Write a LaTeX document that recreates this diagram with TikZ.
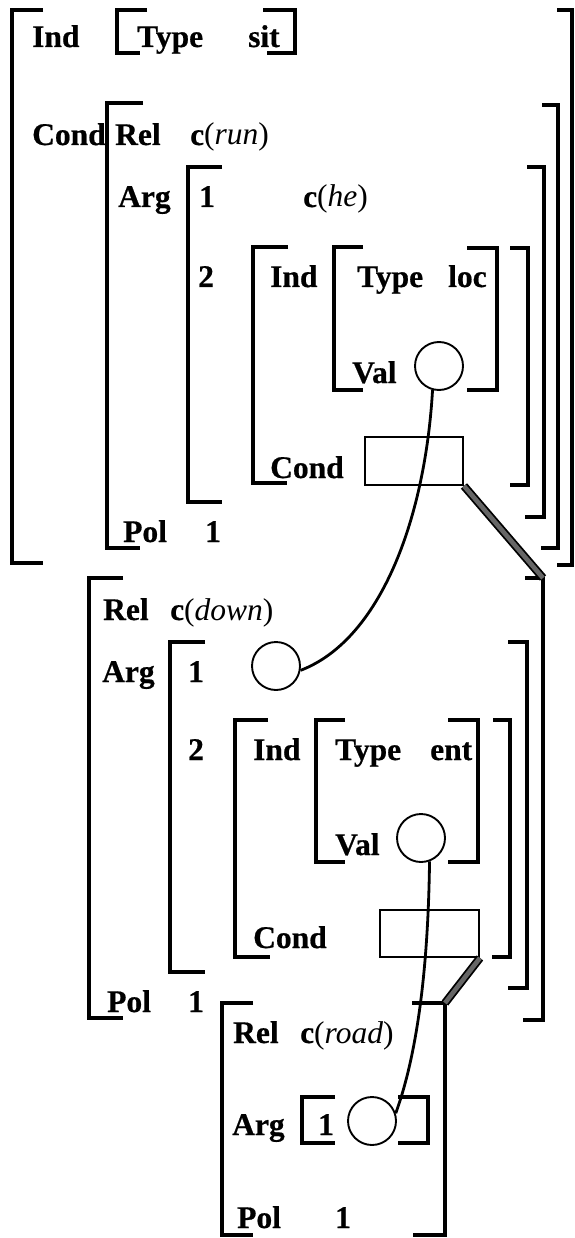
\documentclass[tikz,border=0pt]{standalone}
\usepackage{fontspec}
\setmainfont[BoldFeatures={FakeBold=0.6}]{Liberation Serif}
\begin{document}
\begin{tikzpicture}[x=1pt,y=-1pt,
  brk/.style={line width=3.2pt,line join=miter,line cap=butt},
  lbl/.style={anchor=base west,inner sep=0pt,font=\fontsize{31.5}{31.5}\selectfont\bfseries},
  hole/.style={circle,draw,line width=1.9pt,minimum size=48pt,inner sep=0pt},
  slot/.style={rectangle,draw,line width=1.9pt,inner sep=0pt},
  link/.style={line width=2.8pt},
  share/.style={line width=1.8pt,double=black!60,double distance=4.6pt,line cap=butt}]
\useasboundingbox (0,0) rectangle (574,1238);
% ---------- top AVM brackets ----------
\draw[brk] (43,10) -| (12,563) -- (43,563);
\draw[brk] (557,10) -| (572,565) -- (557,565);
\draw[brk] (147,10) -| (117,53) -- (140,53);
\draw[brk] (263,10) -| (295,53) -- (267,53);
\draw[brk] (143,103) -| (107,548) -- (140,548);
\draw[brk] (542,105) -| (558,548) -- (541,548);
\draw[brk] (222,167) -| (188,502) -- (222,502);
\draw[brk] (527,167) -| (544,517) -- (525,517);
\draw[brk] (288,247) -| (253,483) -- (287,483);
\draw[brk] (510,248) -| (528,485) -- (510,485);
\draw[brk] (363,247) -| (334,390) -- (363,390);
\draw[brk] (467,248) -| (497,390) -- (467,390);
% ---------- lower AVM brackets ----------
\draw[brk] (123,578) -| (89,1018) -- (123,1018);
\draw[brk] (525,578) -| (543,1020) -- (523,1020);
\draw[brk] (205,642) -| (170,972) -- (205,972);
\draw[brk] (508,642) -| (527,988) -- (508,988);
\draw[brk] (268,720) -| (235,957) -- (270,957);
\draw[brk] (493,720) -| (510,957) -- (492,957);
\draw[brk] (345,720) -| (316,862) -- (345,862);
\draw[brk] (448,720) -| (478,862) -- (448,862);
% ---------- road AVM brackets ----------
\draw[brk] (253,1003) -| (222,1235) -- (253,1235);
\draw[brk] (412,1003) -| (445,1235) -- (413,1235);
\draw[brk] (335,1097) -| (302,1143) -- (335,1143);
\draw[brk] (398,1097) -| (428,1143) -- (398,1143);
% ---------- texts: top ----------
\node[lbl] (ind1) at (32,47) {Ind};
\node[lbl] (type1) at (137,47) {Type};
\node[lbl] (sit) at (248,47) {sit};
\node[lbl] (cond1) at (32,145) {Cond};
\node[lbl] (rel1) at (115,145) {Rel};
\node[lbl] (run) at (190,145) {c\textmd{(\textit{run})}};
\node[lbl] (arg1) at (118,207) {Arg};
\node[lbl] (one1) at (199,207) {1};
\node[lbl] (he) at (303,207) {c\textmd{(\textit{he})}};
\node[lbl] (two1) at (198,287) {2};
\node[lbl] (ind2) at (270,287) {Ind};
\node[lbl] (type2) at (357,287) {Type};
\node[lbl] (loc) at (448,287) {loc};
\node[lbl] (val1) at (352,383) {Val};
\node[lbl] (cond2) at (270,478) {Cond};
\node[lbl] (pol1) at (123,542) {Pol};
\node[lbl] (pone1) at (205,542) {1};
% ---------- texts: lower ----------
\node[lbl] (rel2) at (103,620) {Rel};
\node[lbl] (down) at (170,620) {c\textmd{(\textit{down})}};
\node[lbl] (arg2) at (102,682) {Arg};
\node[lbl] (one2) at (188,682) {1};
\node[lbl] (two2) at (188,760) {2};
\node[lbl] (ind3) at (253,760) {Ind};
\node[lbl] (type3) at (335,760) {Type};
\node[lbl] (ent) at (430,760) {ent};
\node[lbl] (val2) at (335,855) {Val};
\node[lbl] (cond3) at (253,948) {Cond};
\node[lbl] (pol2) at (107,1012) {Pol};
\node[lbl] (pone2) at (188,1012) {1};
% ---------- texts: road ----------
\node[lbl] (rel3) at (233,1043) {Rel};
\node[lbl] (road) at (300,1043) {c\textmd{(\textit{road})}};
\node[lbl] (arg3) at (232,1135) {Arg};
\node[lbl] (one3) at (318,1135) {1};
\node[lbl] (pol3) at (237,1228) {Pol};
\node[lbl] (pone3) at (335,1228) {1};
% ---------- holes and slots ----------
\node[hole] (valA) at (439,366) {};
\node[hole] (argA) at (276,666) {};
\node[hole] (valB) at (421,838) {};
\node[hole] (argB) at (372,1121) {};
\node[slot,minimum width=98pt,minimum height=48pt] (condA) at (414,461) {};
\node[slot,minimum width=99pt,minimum height=47pt] (condB) at (429.5,933.5) {};
\coordinate (downTop) at (543,578);
\coordinate (roadTop) at (445,1003);
% ---------- connectors ----------
\draw[link] (valA.-105) .. controls (425,520) and (380,640) .. (argA.-10);
\draw[link] (valB.-70) .. controls (428,980) and (415,1060) .. (argB.18);
\draw[share] (condA.south east) -- (downTop);
\draw[share] (condB.south east) -- (roadTop);
\end{tikzpicture}
\end{document}
